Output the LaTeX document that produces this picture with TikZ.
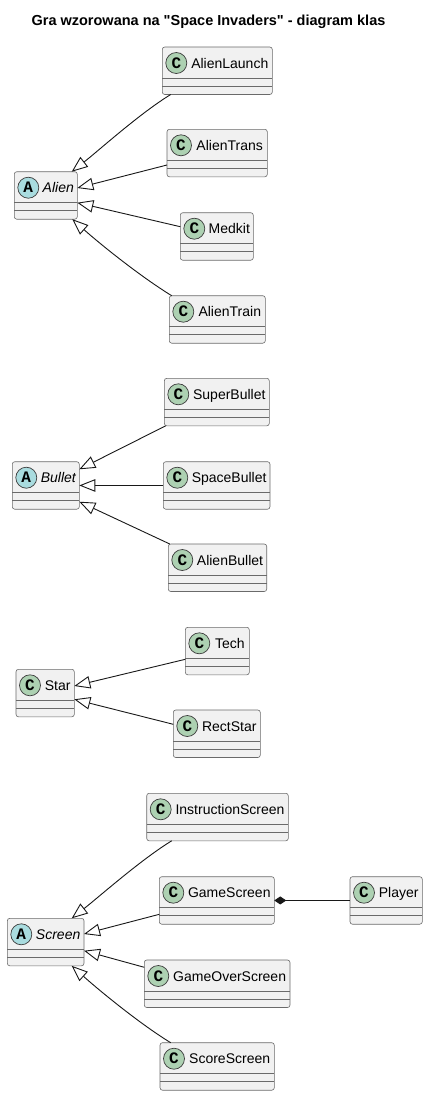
\documentclass[tikz,border=0pt]{standalone}
\usepackage{fontspec}
\setmainfont{Liberation Sans}
\newfontfamily\plainsans{Liberation Sans}
\newfontfamily\circfont{Liberation Mono}
\usetikzlibrary{arrows.meta,calc}
\definecolor{boxfill}{HTML}{F1F1F1}
\definecolor{boxline}{HTML}{6A6A6A}
\definecolor{edgeline}{HTML}{181818}
\definecolor{circline}{HTML}{3C3C3C}
\definecolor{cgreen}{HTML}{ADD1B2}
\definecolor{acyan}{HTML}{A9DCDF}
\tikzset{
  clsbox/.style={rectangle, rounded corners=2.5pt, draw=boxline, line width=0.6pt, fill=boxfill, minimum height=47.5pt, inner sep=0pt, outer sep=0pt},
  sepline/.style={draw=boxline, line width=0.6pt},
  circbase/.style={circle, draw=circline, line width=0.7pt, minimum size=21pt, inner sep=0pt, font=\circfont\bfseries\fontsize{16}{16}\selectfont},
  circC/.style={circbase, fill=cgreen},
  circA/.style={circbase, fill=acyan},
  clsnameC/.style={anchor=base, inner sep=0pt, font=\fontsize{14}{16}\selectfont},
  clsnameA/.style={anchor=base, inner sep=0pt, font=\itshape\fontsize{14}{16}\selectfont},
  inh/.style={draw=edgeline, line width=0.9pt, -{Triangle[open, length=16pt, width=12.5pt]}},
  comp/.style={draw=edgeline, line width=0.9pt, {Diamond[length=12pt, width=8pt]}-},
  titlestyle/.style={anchor=base, inner sep=0pt, font=\plainsans\bfseries\fontsize{14.5}{17}\selectfont}
}
% #1 name, #2 left, #3 top, #4 right, #5 label, #6 kind (C or A)
\newcommand{\umlcls}[6]{%
  \node[clsbox, minimum width={(#4-#2)*1pt}] (#1) at ({(#2+#4)/2},{#3+23.75}) {};
  \draw[sepline] ([yshift=-31pt]#1.north west) -- ([yshift=-31pt]#1.north east);
  \draw[sepline] ([yshift=-39pt]#1.north west) -- ([yshift=-39pt]#1.north east);
  \node[circ#6] (#1-c) at ([xshift=14pt,yshift=-16pt]#1.north west) {#6};
  \node[clsname#6] (#1-t) at ({(#2+#4+25)/2},{#3+21}) {#5};
}
\begin{document}
\begin{tikzpicture}[x=1pt, y=-1pt]
\useasboundingbox[fill=white] (0,0) rectangle (428,1096);
\node[titlestyle] (title) at (208.5,25) {Gra wzorowana na "Space Invaders" - diagram klas};

% Alien group
\umlcls{alaunch}{162.3}{47}{272.3}{AlienLaunch}{C}
\umlcls{atrans}{167}{129.3}{267.3}{AlienTrans}{C}
\umlcls{alien}{14.3}{171.7}{77.3}{Alien}{A}
\umlcls{medkit}{180.3}{212.7}{253.3}{Medkit}{C}
\umlcls{atrain}{169.3}{295.7}{265.3}{AlienTrain}{C}

% Bullet group
\umlcls{sbul}{164.3}{378.3}{269.3}{SuperBullet}{C}
\umlcls{spbul}{163.3}{461.7}{270}{SpaceBullet}{C}
\umlcls{abul}{168.3}{544}{266.7}{AlienBullet}{C}
\umlcls{bullet}{12.3}{461.7}{79.3}{Bullet}{A}

% Star group
\umlcls{tech}{185.3}{627.3}{249.3}{Tech}{C}
\umlcls{rstar}{173.3}{710}{260.3}{RectStar}{C}
\umlcls{star}{16}{669.3}{74.3}{Star}{C}

% Screen group
\umlcls{iscr}{146.7}{793.3}{288.3}{InstructionScreen}{C}
\umlcls{gscr}{159.3}{876.7}{274.3}{GameScreen}{C}
\umlcls{player}{350}{876.7}{422.3}{Player}{C}
\umlcls{screen}{7.3}{918.3}{84}{Screen}{A}
\umlcls{goscr}{144.3}{960}{290}{GameOverScreen}{C}
\umlcls{sscr}{160}{1042.7}{274.3}{ScoreScreen}{C}

% Alien edges
\draw[inh] ([xshift=8.4pt]alaunch.south west) .. controls +(-31,19) and +(28,-22) .. ([xshift=-5.6pt]alien.north east);
\draw[inh] ([yshift=-35.7pt]atrans.north west) -- ([yshift=-16.3pt]alien.north east);
\draw[inh] ([yshift=-14pt]medkit.north west) -- ([yshift=-31pt]alien.north east);
\draw[inh] ([xshift=2.4pt]atrain.north west) .. controls +(-31,-19) and +(28,25) .. ([xshift=-5pt]alien.south east);

% Bullet edges
\draw[inh] ([xshift=1.4pt]sbul.south west) -- ([yshift=-7.6pt]bullet.north east);
\draw[inh] (spbul.west) -- (bullet.east);
\draw[inh] ([xshift=1.5pt]abul.north west) -- ([yshift=-40pt]bullet.north east);

% Star edges
\draw[inh] ([yshift=-32pt]tech.north west) -- ([yshift=-16.7pt]star.north east);
\draw[inh] ([yshift=-14.3pt]rstar.north west) -- ([yshift=-30pt]star.north east);

% Screen edges
\draw[inh] ([xshift=25pt]iscr.south west) .. controls +(-31,19) and +(28,-22) .. ([xshift=-12.3pt]screen.north east);
\draw[inh] ([yshift=-37.6pt]gscr.north west) -- ([yshift=-15.7pt]screen.north east);
\draw[inh] ([yshift=-7.3pt]goscr.north west) -- ([yshift=-32.4pt]screen.north east);
\draw[inh] ([xshift=10.7pt]sscr.north west) .. controls +(-31,-19) and +(28,25) .. ([xshift=-12.3pt]screen.south east);
\draw[comp] (gscr.east) -- (player.west);
\end{tikzpicture}
\end{document}
